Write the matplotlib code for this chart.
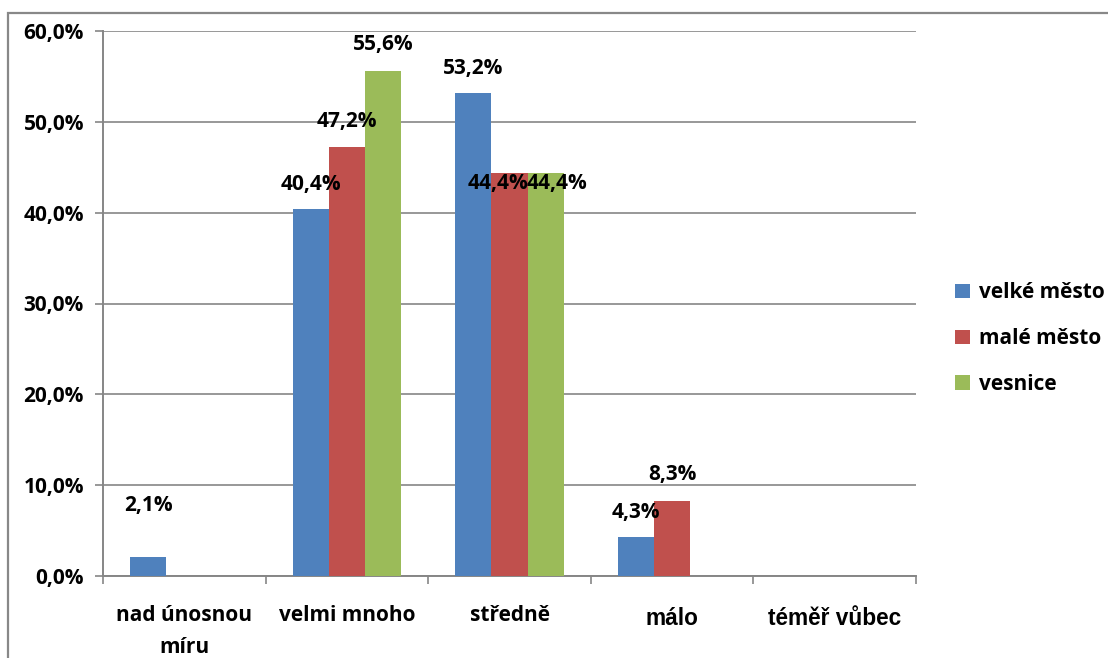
import matplotlib
matplotlib.use("Agg")
import matplotlib.pyplot as plt
from matplotlib.patches import Rectangle
from matplotlib.ticker import FuncFormatter

categories = ["nad únosnou\nmíru", "velmi mnoho", "středně", "málo", "téměř vůbec"]
series_names = ["velké město", "malé město", "vesnice"]
velke_mesto = [2.1, 40.4, 53.2, 4.3, 0.0]
male_mesto = [0.0, 47.2, 44.4, 8.3, 0.0]
vesnice = [0.0, 55.6, 44.4, 0.0, 0.0]
y_ticks = [0, 10, 20, 30, 40, 50, 60]

values = [velke_mesto, male_mesto, vesnice]
colors = ["#4F81BD", "#C0504D", "#9BBB59"]

# label placement (pixel offset of label centre from bar top), per series
label_dy = [[51, 25, 24, 24, 0], [0, 26, -11, 26, 0], [0, 26, -11, 0, 0]]
label_dx = [[0, 0, 0, 0, 0], [0, 0, -12, 0, 0], [0, 0, 11, 0, 0]]

DPI = 100
W, H = 1108, 658
FONT = ["Open Sans", "DejaVu Sans"]
FS = 15
plt.rcParams["font.family"] = FONT
GRID = "#868686"
PX = 72 / DPI  # points per pixel

fig = plt.figure(figsize=(W / DPI, H / DPI), dpi=DPI)
fig.patch.set_facecolor("white")

# outer chart frame
fig.add_artist(Rectangle((8 / W, -0.1), 1.2, (H - 13) / H + 0.1,
                         transform=fig.transFigure, fill=False,
                         edgecolor="#888888", linewidth=1.6))

left, right, top, bottom = 103, 916, 31, 576
ax = fig.add_axes([left / W, (H - bottom) / H, (right - left) / W, (bottom - top) / H])

n = len(categories)
bw = 1 / 4.5
x = list(range(n))
for s, (vals, col) in enumerate(zip(values, colors)):
    xs = [i + (s - 1) * bw for i in x]
    ax.bar(xs, vals, width=bw, color=col, label=series_names[s], zorder=3)
    for i, v in enumerate(vals):
        if v == 0:
            continue
        ax.annotate(f"{v:.1f}%".replace(".", ","), (xs[i], v),
                    xytext=(label_dx[s][i] * PX, label_dy[s][i] * PX),
                    textcoords="offset points", ha="center", va="center",
                    fontsize=FS, fontweight="bold", color="black", zorder=5)

ax.set_xlim(-0.5, n - 0.5)
ax.set_ylim(0, 60)
ax.set_yticks(y_ticks)
ax.yaxis.set_major_formatter(FuncFormatter(lambda v, p: f"{v:.1f}%".replace(".", ",")))
ax.yaxis.grid(True, color=GRID, linewidth=1.2, zorder=0)
ax.set_axisbelow(True)

for sp in ["top", "right"]:
    ax.spines[sp].set_visible(False)
for sp in ["left", "bottom"]:
    ax.spines[sp].set_color(GRID)
    ax.spines[sp].set_linewidth(1.4)

ax.tick_params(axis="y", direction="out", length=8 * PX, width=1.2, color=GRID,
               labelsize=FS, pad=11 * PX)
for t in ax.get_yticklabels():
    t.set_fontweight("bold")

# category boundary ticks on x axis
ax.set_xticks([i - 0.5 for i in range(n + 1)])
ax.set_xticklabels([])
ax.tick_params(axis="x", direction="out", length=8 * PX, width=1.2, color=GRID)
for i, c in enumerate(categories):
    arial = i >= 3
    fam = ["Liberation Sans", "DejaVu Sans"] if arial else FONT
    ax.annotate(c, (i, 0), xycoords=("data", "axes fraction"),
                xytext=(0, -(31 if arial else 29) * PX), textcoords="offset points",
                ha="center", va="top", fontsize=16.3 if arial else FS,
                fontweight="bold", family=fam, linespacing=1.68,
                annotation_clip=False)

leg = fig.legend(loc="upper left", bbox_to_anchor=(947 / W, 1 - 274 / H),
                 frameon=False, fontsize=FS, handlelength=0.7, handleheight=0.7,
                 handletextpad=0.42, labelspacing=1.19, borderaxespad=0)
for t in leg.get_texts():
    t.set_fontweight("bold")

fig.savefig("out.png", dpi=DPI)
